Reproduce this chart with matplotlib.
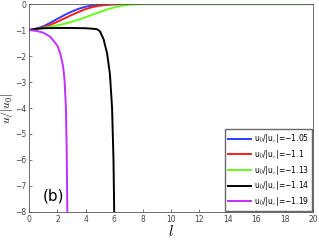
import matplotlib.pyplot as plt

plt.rcParams['mathtext.fontset'] = 'cm'

# 读图得到的数据点
l_blue = [0, 0.5, 1, 1.5, 2, 2.5, 3, 3.5, 4, 4.5, 5, 6, 7, 20]
u_blue = [-1, -0.95, -0.86, -0.72, -0.57, -0.42, -0.29, -0.18, -0.1, -0.05, -0.02, -0.005, 0, 0]

l_red = [0, 0.5, 1, 1.5, 2, 2.5, 3, 3.5, 4, 4.5, 5, 5.5, 6, 7, 20]
u_red = [-1, -0.96, -0.9, -0.8, -0.68, -0.55, -0.42, -0.3, -0.19, -0.11, -0.06, -0.03, -0.01, 0, 0]

l_green = [0, 0.5, 1, 1.5, 2, 2.5, 3, 3.5, 4, 4.5, 5, 5.5, 6, 6.5, 7, 7.5, 8, 20]
u_green = [-1, -0.97, -0.92, -0.87, -0.82, -0.76, -0.68, -0.6, -0.5, -0.4, -0.3, -0.21, -0.13, -0.07, -0.03, -0.01, 0, 0]

l_black = [0, 0.5, 1, 2, 3, 4, 4.5, 4.8, 5.0, 5.25, 5.5, 5.7, 5.85, 5.95, 6.0]
u_black = [-1, -0.95, -0.93, -0.92, -0.92, -0.93, -0.95, -0.97, -1.05, -1.35, -1.9, -2.7, -4, -6, -8]

l_mag = [0, 0.5, 1, 1.5, 2, 2.2, 2.4, 2.5, 2.6, 2.65, 2.7]
u_mag = [-1, -1.03, -1.1, -1.26, -1.6, -1.9, -2.4, -2.9, -4, -5.5, -8]

labels = ['\u22121.05', '\u22121.1', '\u22121.13', '\u22121.14', '\u22121.19']

fig = plt.figure(figsize=(3.19, 2.40), dpi=100)
ax = fig.add_axes([0.091, 0.117, 0.890, 0.866])

series = [(l_blue, u_blue, '#2a3cff'), (l_red, u_red, '#ff1a1a'),
          (l_green, u_green, '#66ff1a'), (l_black, u_black, 'black'),
          (l_mag, u_mag, '#c030ff')]
for (x, y, c), lab in zip(series, labels):
    ax.plot(x, y, color=c, lw=1.4, label=r'u$_0$/|u$_c$|=' + lab)

ax.set_xlim(0, 20)
ax.set_ylim(-8, 0)
ax.set_xticks(range(0, 21, 2))
ax.set_yticks(range(-8, 1))
ax.tick_params(direction='in', labelsize=5.5, length=2, width=0.5, colors='#444444', pad=2)
for s in ax.spines.values():
    s.set_linewidth(0.6)
    s.set_color('#555555')

ax.set_xlabel(r'$l$', fontsize=11, labelpad=0)
ax.set_ylabel(r'$u/|u_0|$', fontsize=8.5)
ax.yaxis.set_label_coords(-0.048, 0.5)
ax.text(1.0, -7.55, '(b)', fontsize=11)

ax.legend(loc='lower right', fontsize=5.5, handlelength=3.0, frameon=True,
          fancybox=False, edgecolor='#444444', borderaxespad=0.1,
          labelspacing=0.35, handletextpad=0.4, borderpad=0.4)

fig.savefig('out.png', dpi=100)
